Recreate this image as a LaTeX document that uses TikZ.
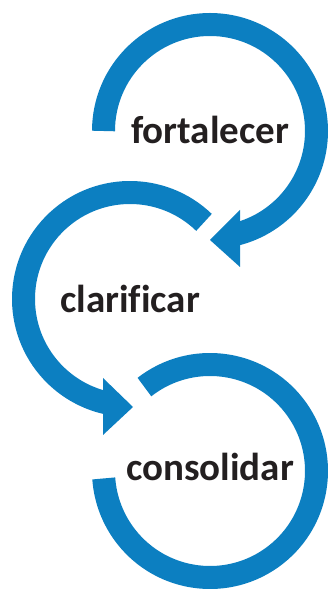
\documentclass[tikz,border=0pt]{standalone}
\usepackage{fontspec}
\setmainfont{Carlito}[Ligatures=CommonOff]
\definecolor{cycleblue}{HTML}{0C7FC1}
\definecolor{wordgray}{HTML}{231F20}
\begin{document}
\begin{tikzpicture}[x=1pt,y=1pt,
   band/.style={cycleblue,line width=23pt},
   head/.style={fill=cycleblue},
   word/.style={font=\bfseries\fontsize{39}{39}\selectfont,text=wordgray,anchor=base,inner sep=0pt}]
   \useasboundingbox (0,0) rectangle (329,590);
   \coordinate (topc) at (210,459);
   \coordinate (midc) at (130,291);
   \coordinate (botc) at (210,119);
   % first loop, ends in the arrow to the second
   \draw [band] ([shift={(180:106.5)}]topc) arc (180:-76:106.5);
   \fill [head] ([shift={(30,-79)}]topc) -- ([shift={(30,-136)}]topc) -- ([shift={(0,-109)}]topc) -- cycle;
   % second loop
   \draw [band] ([shift={(46:106.5)}]midc) arc (46:257:106.5);
   \fill [head] ([shift={(-27,-79)}]midc) -- ([shift={(-27,-136)}]midc) -- ([shift={(3,-108)}]midc) -- cycle;
   % third loop
   \draw [band] ([shift={(128:106.5)}]botc) arc (128:-176:106.5);
   \node [word] (fortalecer) at ([yshift=-13]topc) {fortalecer};
   \node [word] (clarificar) at ([yshift=-14]midc) {clarificar};
   \node [word] (consolidar) at ([yshift=-10]botc) {consolidar};
\end{tikzpicture}
\end{document}
